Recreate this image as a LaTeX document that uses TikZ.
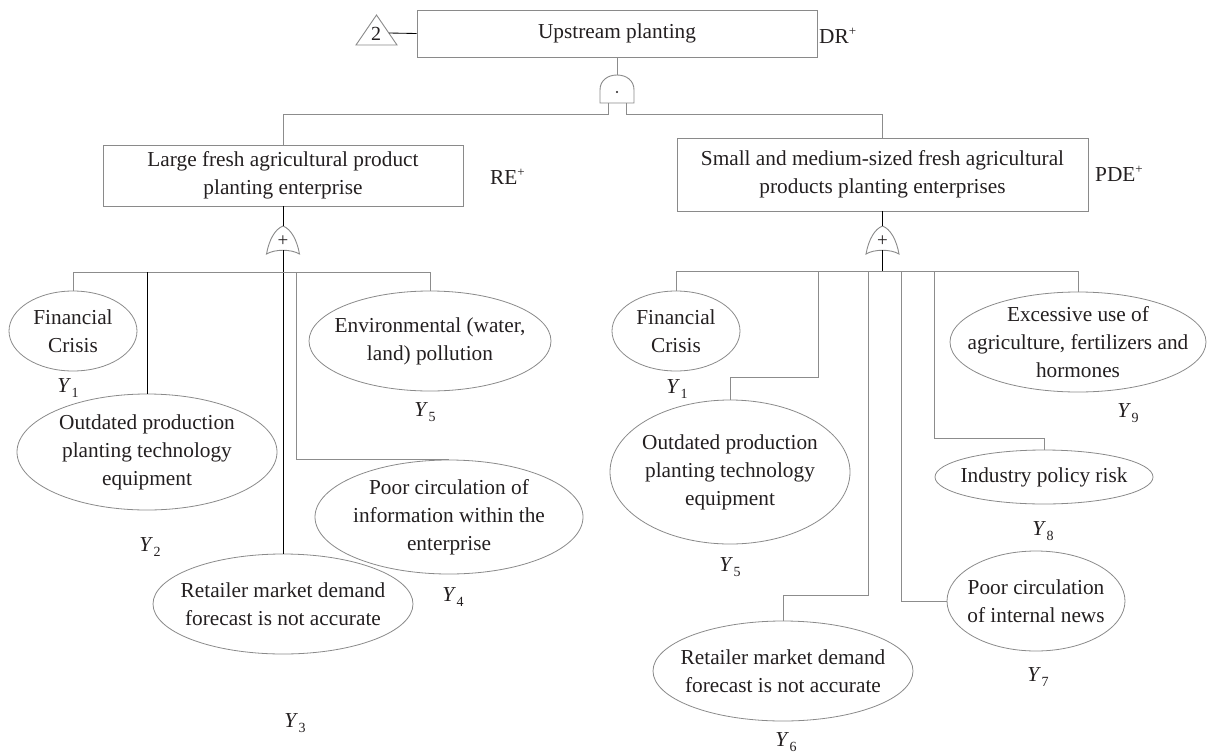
\documentclass[tikz,border=0pt]{standalone}
\usepackage{fontspec}
\setmainfont{Liberation Serif}
\usetikzlibrary{shapes.geometric}
\definecolor{ink}{HTML}{231F20}
\definecolor{rim}{HTML}{8A8A8A}
\definecolor{wirec}{HTML}{8C8C8C}
% event index label, e.g. Y_3
\newcommand\ylab[1]{\textit{Y}\kern0.3pt\raisebox{-0.45ex}{\fontsize{14}{14}\selectfont #1}}
% event tag with a superscript plus
\newcommand\plusmark[1]{#1\raisebox{0.8ex}{\fontsize{13}{13}\selectfont +}}

\begin{document}
\begin{tikzpicture}[x=1pt,y=-1pt,
  every node/.style={text=ink, font=\fontsize{21.3}{28}\selectfont},
  evbox/.style={draw=rim, line width=0.95pt, inner sep=0pt, align=center},
  evoval/.style={ellipse, draw=rim, line width=0.8pt, inner sep=0pt},
  evtext/.style={align=center, inner sep=0pt},
  tag/.style={anchor=west, inner sep=0pt},
  idx/.style={inner sep=0pt},
  wire/.style={draw=wirec, line width=0.9pt},
  bwire/.style={draw=black, line width=0.85pt},
  gate/.style={draw=rim, line width=0.9pt, fill=white},
]
\useasboundingbox (0,0) rectangle (1210,755);

% ---------- top event ----------
\node[evbox, minimum width=400, minimum height=47] (top) at (617,33.5) {Upstream planting};
\node[tag] (dr) at (819,36) {\plusmark{DR}};
\draw[gate] (356,45) -- (376.5,15) -- (397,45) -- cycle;
\node[idx, font=\fontsize{20}{20}\selectfont] (tri) at (376,34) {2};
\coordinate (triR) at (388.8,33);
\draw[bwire] (triR) -- (top.west);

% ---------- AND gate ----------
\coordinate (andg) at (617,89);
\begin{scope}[shift={(andg)}]
  \draw[gate] (-17,14) -- (-17,1) .. controls (-17,-8.5) and (-9.5,-14) .. (0,-14)
     .. controls (9.5,-14) and (17,-8.5) .. (17,1) -- (17,14) -- cycle;
  \fill[ink] (0,3) circle (1.2);
\end{scope}
\coordinate (andT) at (617,75);
\coordinate (andL) at (608,103);
\coordinate (andR) at (626,103);
\coordinate (busT) at (0,114);
\draw[wire] (top.south) -- (andT);

% ---------- intermediate events ----------
\node[evbox, minimum width=360, minimum height=61] (lbox) at (283,175.5)
  {Large fresh agricultural product\\planting enterprise};
\node[tag] (re) at (490,177) {\plusmark{RE}};
\node[evbox, minimum width=411, minimum height=73] (rbox) at (882.5,174.5)
  {Small and medium-sized fresh agricultural\\products planting enterprises};
\node[tag] (pde) at (1095,174) {\plusmark{PDE}};

\draw[wire] (andL) -- (andL |- busT) -| (lbox.north);
\draw[wire] (andR) -- (andR |- busT) -| (rbox.north);

% ---------- OR gates ----------
\coordinate (orL) at (283,240);
\coordinate (orR) at (882.5,240);
\foreach \g in {orL,orR}{
  \begin{scope}[shift={(\g)}]
    \draw[gate] (-16.5,14) .. controls (-14,0) and (-8,-11) .. (0,-14)
      .. controls (8,-11) and (14,0) .. (16.5,14)
      .. controls (8,9) and (-8,9) .. (-16.5,14) -- cycle;
    \node[idx, font=\fontsize{19}{19}\selectfont] at (0,1) {+};
  \end{scope}
}
\coordinate (orLT) at (283,226);
\coordinate (orLB) at (283,250);
\coordinate (orRT) at (882.5,226);
\coordinate (orRB) at (882.5,250);
\coordinate (busL) at (0,272);
\coordinate (busR) at (0,271);

% ---------- basic events, left branch ----------
\node[evoval, minimum width=128, minimum height=80,
  label={[evtext]center:Financial\\Crisis}] (lfin) at (73,331) {};
\node[evoval, minimum width=260, minimum height=116,
  label={[evtext]center:Outdated production\\planting technology\\equipment}] (lout) at (147,452) {};
\node[evoval, minimum width=260, minimum height=100,
  label={[evtext]center:Retailer market demand\\forecast is not accurate}] (lret) at (283,604) {};
\node[evoval, minimum width=268, minimum height=114,
  label={[evtext]center:Poor circulation of\\information within the\\enterprise}] (lpoor) at (449,517) {};
\node[evoval, minimum width=242, minimum height=100,
  label={[evtext]center:Environmental (water,\\land) pollution}] (lenv) at (430,341) {};

\node[idx] (ly1) at (68,388) {\ylab{1}};
\node[idx] (ly2) at (150,547) {\ylab{2}};
\node[idx] (ly3) at (295,723) {\ylab{3}};
\node[idx] (ly4) at (453,597) {\ylab{4}};
\node[idx] (ly5) at (425,412) {\ylab{5}};

\draw[bwire] (lbox.south) -- (orLT);
\draw[bwire] (orLB) -- (lret.north);
\draw[wire] (lfin.north) -- (lfin.north |- busL) -- (lenv.north |- busL) -- (lenv.north);
\draw[bwire] (lout.north |- busL) -- (lout.north);
\coordinate (lj) at (296,272);
\draw[wire] (lj) |- (lpoor.north);

% ---------- basic events, right branch ----------
\node[evoval, minimum width=128, minimum height=80,
  label={[evtext]center:Financial\\Crisis}] (rfin) at (676,331) {};
\node[evoval, minimum width=240, minimum height=144,
  label={[evtext]center:Outdated production\\planting technology\\equipment}] (rout) at (730,472) {};
\node[evoval, minimum width=260, minimum height=100,
  label={[evtext]center:Retailer market demand\\forecast is not accurate}] (rret) at (783,671) {};
\node[evoval, minimum width=178, minimum height=100,
  label={[evtext]center:Poor circulation\\of internal news}] (rnews) at (1036,601) {};
\node[evoval, minimum width=218, minimum height=54,
  label={[evtext]center:Industry policy risk}] (rind) at (1044,477) {};
\node[evoval, minimum width=256, minimum height=100,
  label={[evtext]center:Excessive use of\\agriculture, fertilizers and\\hormones}] (rexc) at (1078,342) {};

\node[idx] (ry1) at (677,389) {\ylab{1}};
\node[idx] (ry5) at (730,567) {\ylab{5}};
\node[idx] (ry6) at (786,742) {\ylab{6}};
\node[idx] (ry7) at (1038,677) {\ylab{7}};
\node[idx] (ry8) at (1043,531) {\ylab{8}};
\node[idx] (ry9) at (1128,413) {\ylab{9}};

\draw[bwire] (rbox.south) -- (orRT);
\draw[bwire] (orRB) -- (orRB |- busR);
\draw[wire] (rfin.north) -- (rfin.north |- busR) -- (rexc.north |- busR) -- (rexc.north);
\coordinate (rj1) at (818,271);
\coordinate (rj2) at (868,271);
\coordinate (rj3) at (901,271);
\coordinate (rj4) at (934,271);
\draw[wire] (rj1) -- ++(0,106) -| (rout.north);
\draw[wire] (rj2) -- ++(0,324) -| (rret.north);
\draw[wire] (rj3) |- (rnews.west);
\draw[wire] (rj4) -- ++(0,167) -| (rind.north);
\end{tikzpicture}
\end{document}
